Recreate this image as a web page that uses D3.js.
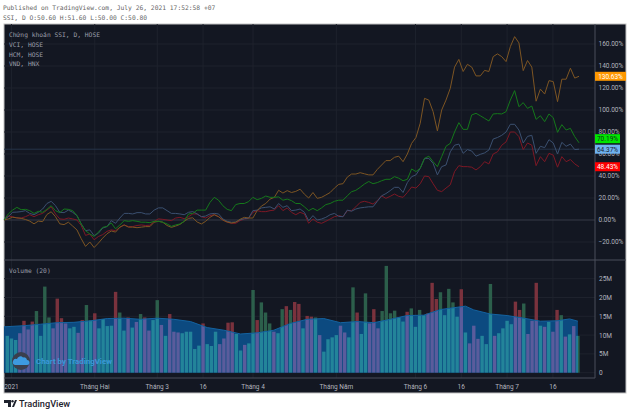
<!DOCTYPE html>
<html>
<head>
<meta charset="utf-8">
<script src="https://cdn.jsdelivr.net/npm/d3@7"></script>
<style>
  html, body { margin: 0; padding: 0; background: #fff; }
  svg { display: block; }
  text { font-family: Roboto, "Noto Sans", sans-serif; }
  .mono { font-family: "DejaVu Sans Mono", "Liberation Mono", monospace; }
</style>
</head>
<body>
<div id="chart"></div>
<script>
// percent change
const ssi = [0,1,2.5,2,1.5,.5,-1,-3.5,-1,-1.5,5,7.5,3,-3.5,-4.2,-2,-5.5,-9,-17,-24,-20,-25,-21,-16.5,-12.5,-10,-11,-6.5,-4.5,-6.5,-6.5,-7,-6.5,-6,-6,-2,-1.2,-2,-5,-6.7,-5.5,-4,-1.2,1.5,2,-1.8,-3.6,-1.2,2.4,4.8,3,0,-1.8,-2.7,-2,.6,2.4,1.8,1.8,8.5,12.7,15,19,20.6,27,24.5,26.7,25,26,28,23.5,20,25,19.7,20.6,22.7,25,29,32.4,33,39,41.8,41.8,43,42,41,41,46,50,54,54,57,58,53,60,69.7,75,88,110.6,109,98.5,81,100,109,119.7,139,146,135,141.5,139,131,131,136,135,148.5,151,148.5,144,157.6,166.7,161,135.8,145,139,108,119,114.5,126.7,125.8,107.6,128,128,138,129,130.63];
const vci = [0,5.5,9,11.5,9.4,9.7,8.5,6,7.9,7,9.7,13,8.5,6.7,10,9.7,8.5,4,-3.6,-9.7,-12.7,-15,-11,-6.7,-5.8,-2.7,-8,-4.5,-.6,-1.2,-.6,-1.2,-2,-2,-2.4,-1.2,-1.2,-2,-3.6,-5.8,-4.5,-3.6,-1.2,5.5,6,9,9,9,16,20.6,18,13,9.7,8.5,14,15,15,16.7,20.6,18.5,19.7,21.8,20.6,20.6,21,18,19,17.6,15,15,12,8.5,10.6,8.5,11,14,15,17,18,18,22,25.7,27,29.7,32.7,35,33,34,35.7,37,37,39.4,38,35.7,37,46.4,44,47,56,58,53,48.5,57.6,67,69.7,80,88.5,82.4,82.4,95.5,97,94.8,92.4,90,96.4,96.7,96.4,98.5,109,117.6,103,106.7,101.5,103.6,91.5,94.8,89.4,96.4,93,79.7,86.7,81.8,83.3,75.8,70.19];
const hcm = [0,3,7,7.2,7.6,8.5,6,4.8,7,10,15,17,13,7,6.7,9,7,4,-3.6,-9.7,-9,-14.2,-12,-7.3,-6,-.6,-3,1.8,6,6,5.5,6.7,6.7,5.5,5.5,9,11,11,8.5,6,6,5.5,4.8,7,7.6,5.5,3,3.6,5.5,6,5.5,1,-1.2,-2,-1.8,0,1.2,1.8,8.5,9,11,11.5,12,10,15,11.5,13,8.5,9,10,7,-.6,4,0,.9,2.4,4.8,6,3.3,3,9,8,10,11,11.5,12,12,17,22,24,26.7,29.7,29.7,25,34,39.4,41,47,56,56,51.5,41,48.5,50,62,68,69,60.6,64,62.7,58,59.7,61,63.6,73.6,75,77,80,87,87,81.8,70,76,77,60.6,67,65.8,73,70,60,70.6,67,69,64,64.37];
const vnd = [0,3.6,3,1.8,1.8,3,4.8,3,4.8,6,9,12,5.5,1,.6,1.8,1,0,-5,-14,-12.7,-18,-15,-13.3,-10.3,-9,-9.7,-6.7,-4.5,-6,-6,-5,-4.5,-5,-4.8,-1.2,1,.6,0,-.6,1.8,2.4,1.2,3,5.5,5.5,3,1.8,4,4.8,3,0,-2,-3,-3,-.6,.9,1.5,7,8.5,7.6,7.6,8.5,9,13,8.5,11,7,4.8,7,5.5,-3,1,-2,-3,-1.2,.9,3,4,3,8.5,8.5,12,16,17,16,14.5,17.6,22,19.7,21.5,23.6,21.5,20.6,25,30,29,33,40,39.4,33,27,25.8,29,32,44,49.4,48.5,48.5,48,45.5,48.5,53,51,60,62,68,71,80,80,75.8,64,70,68,49.4,57.6,53,60.6,59,48,57.6,53,55,51,48.43];

// volume in millions, one per bar, and whether the bar closed up
const volume = [9.8,9.1,8.7,10.5,13.8,11.5,13.6,16.4,9.8,22.9,14.7,11.8,19.7,14.5,13.1,11.8,12.2,10.6,14,18,14,15.8,11.8,14.3,12.4,12.5,21.5,16,11.2,14.7,12,13.5,15.6,14.7,11.2,14,19.3,12.7,9.8,15.6,10.9,10.7,10.5,10.9,10.9,6.3,7.2,13.1,7.6,
  7.1,10.9,7.6,9.1,13.3,13.4,10.3,5.9,7.4,7.8,22,14,18.7,16,13.1,10.9,10.5,16.9,17.7,16.7,18.8,18.3,11.8,15.1,14.9,14.7,10,5.6,8.9,9.4,10,12.5,10.7,9.4,22.7,16,10.3,21.1,13.1,16.9,11.8,16.4,28.4,15.8,16.5,14.7,13.6,16.2,17.1,12.2,
  16.7,15.3,15.8,23.9,19.6,21.4,15.3,22.3,18.7,14.9,22.2,10.7,7.8,12.5,9,9.8,7.6,23.6,9.8,10.5,11.8,13.8,12.9,18.9,16.7,18.4,10.3,13.8,23.9,12.5,12.2,13.5,10.9,16.7,15.3,9.6,10.2,12.4,9.8];
const up = [1,1,1,0,0,0,0,1,1,1,1,0,0,0,0,1,1,0,0,1,1,0,1,1,1,1,0,1,1,0,1,0,1,0,0,1,1,0,1,0,0,0,1,1,1,1,1,0,1,
  1,1,0,0,0,0,1,1,0,1,1,0,1,1,1,0,1,1,0,1,0,0,1,0,0,1,0,1,1,1,1,0,0,1,1,0,1,1,0,0,0,1,1,1,1,1,1,0,1,1,
  1,1,0,0,0,1,1,1,1,1,0,1,0,0,0,1,1,1,0,1,1,1,1,0,0,1,0,0,0,1,0,1,0,0,1,0,1,0,1];

// volume average, read at every few bars
const maBars = [0,4,8,12,16,20,24,28,32,36,40,44,48,52,56,60,64,68,72,76,80,84,88,92,96,100,104,108,110,112,116,120,124,128,132,135,137];
const maVals = [12.2,12.5,12.9,13.3,13.4,13.8,14.4,14.5,14.2,14.5,14.2,13.6,12,11.3,10.3,10.6,11.3,13.1,14.2,14.4,13.3,13.6,13.3,14.2,15.2,15.3,16.8,17.4,17.7,16.7,15.6,15.2,14.5,13.7,13.8,14.3,13.7];

const priceTicks = [160,140,120,100,80,60,40,20,0,-20];
const volTicks = [0,5,10,15,20,25];
const timeBars = [1,21,36,47,59,79,98,109,120,131];
const timeLabels = ["2021","Tháng Hai","Tháng 3","16","Tháng 4","Tháng Năm","Tháng 6","16","Tháng 7","16"];
const legend = ["Chứng khoán SSI, D, HOSE","VCI, HOSE","HCM, HOSE","VND, HNX"];

const width = 630, height = 414;
const svg = d3.select("#chart").append("svg").attr("width", width).attr("height", height);

const panelL = 4, panelR = 626, panelT = 24, panelB = 393, axisX = 595;
const splitY = 260, axisY = 378;

const xLine = d3.scaleLinear().domain([0, ssi.length - 1]).range([4, 579]);
const xBar = d3.scaleLinear().domain([0, volume.length - 1]).range([7.3, 577.9]);
const yPrice = d3.scaleLinear().domain([0, 160]).range([220, 44]);
const yVol = d3.scaleLinear().domain([0, 25]).range([372.7, 278.7]);

const gridColor = "#1e222d";
const textColor = "#b2b5be";

// header
svg.append("text").attr("class", "mono").attr("x", 3).attr("y", 10).attr("font-size", 6.3).attr("fill", "#666")
  .text("Published on TradingView.com, July 26, 2021 17:52:58 +07");
svg.append("text").attr("class", "mono").attr("x", 3).attr("y", 20).attr("font-size", 6.3).attr("fill", "#666")
  .text("SSI, D O:50.60 H:51.60 L:50.00 C:50.80");

svg.append("rect").attr("x", panelL).attr("y", panelT).attr("width", panelR - panelL).attr("height", panelB - panelT)
  .attr("fill", "#131722").attr("stroke", "#c4c4c4").attr("stroke-width", 1);

// grid
svg.selectAll("line.vgrid").data(timeBars).enter().append("line")
  .attr("x1", d => xBar(d)).attr("x2", d => xBar(d)).attr("y1", panelT).attr("y2", axisY)
  .attr("stroke", gridColor);
svg.selectAll("line.hgrid").data(priceTicks).enter().append("line")
  .attr("x1", panelL).attr("x2", axisX).attr("y1", d => yPrice(d)).attr("y2", d => yPrice(d))
  .attr("stroke", d => d == 0 ? "#363a46" : gridColor);
svg.selectAll("line.vgridv").data(volTicks).enter().append("line")
  .attr("x1", panelL).attr("x2", axisX).attr("y1", d => yVol(d)).attr("y2", d => yVol(d))
  .attr("stroke", gridColor);

// last price line
svg.append("line").attr("x1", panelL).attr("x2", axisX)
  .attr("y1", yPrice(hcm[hcm.length - 1])).attr("y2", yPrice(hcm[hcm.length - 1]))
  .attr("stroke", "#263449").attr("stroke-width", 1);

// panel separators and axes
svg.append("line").attr("x1", panelL).attr("x2", panelR).attr("y1", splitY).attr("y2", splitY).attr("stroke", "#4a4e5a");
svg.append("line").attr("x1", panelL).attr("x2", axisX).attr("y1", axisY).attr("y2", axisY).attr("stroke", "#4a4e5a");
svg.append("line").attr("x1", axisX).attr("x2", axisX).attr("y1", panelT).attr("y2", axisY).attr("stroke", "#4a4e5a");

// lines
const line = d3.line().x((d, i) => xLine(i)).y(d => yPrice(d));
const series = [
  { values: vnd, color: "#7d1825", box: "#ff0000", text: "#fff" },
  { values: hcm, color: "#3b5070", box: "#6fb2f0", text: "#17202c" },
  { values: ssi, color: "#7d5522", box: "#ff9800", text: "#fff" },
  { values: vci, color: "#15781b", box: "#00e600", text: "#10331a" }
];
svg.selectAll("path.series").data(series).enter().append("path")
  .attr("fill", "none").attr("stroke", d => d.color).attr("stroke-width", 1)
  .attr("d", d => line(d.values));

// volume bars, moving average area on top, then the bars again inside it
const barW = 3.4;
const barX = i => xBar(i) - barW / 2;
svg.selectAll("rect.vol").data(volume).enter().append("rect")
  .attr("x", (d, i) => barX(i)).attr("y", d => yVol(d))
  .attr("width", barW).attr("height", d => yVol(0) - yVol(d))
  .attr("fill", (d, i) => up[i] ? "#2c5f4b" : "#7a323d");

const ma = d3.area().x(d => xBar(d[0])).y0(yVol(0)).y1(d => yVol(d[1]));
const maLine = d3.line().x(d => xBar(d[0])).y(d => yVol(d[1]));
const maData = maBars.map((b, i) => [b, maVals[i]]);
maData[0] = [-0.8, maVals[0]];

svg.append("clipPath").attr("id", "maClip").append("path").attr("d", ma(maData));
svg.append("path").attr("d", ma(maData)).attr("fill", "#0c4a80");
svg.append("g").attr("clip-path", "url(#maClip)")
  .selectAll("rect").data(volume).enter().append("rect")
  .attr("x", (d, i) => barX(i)).attr("y", d => yVol(d))
  .attr("width", barW).attr("height", d => yVol(0) - yVol(d))
  .attr("fill", (d, i) => up[i] ? "#23849a" : "#5a5c9c");
svg.append("path").attr("d", maLine(maData)).attr("fill", "none").attr("stroke", "#14629f").attr("stroke-width", 1);

// legend
svg.selectAll("text.legend").data(legend).enter().append("text")
  .attr("class", "mono").attr("x", 9).attr("y", (d, i) => 37.3 + i * 9.7)
  .attr("font-size", 6.3).attr("fill", "#9a9ea9").text(d => d);
svg.append("text").attr("class", "mono").attr("x", 9).attr("y", 273)
  .attr("font-size", 6.3).attr("fill", "#9a9ea9").text("Volume (20)");

// watermark
svg.append("circle").attr("cx", 21).attr("cy", 361).attr("r", 9).attr("fill", "#3a3f4d");
svg.append("path").attr("d", "M15 365 h12 a2.5 2.5 0 0 0 0 -5 a3 3 0 0 0 -4 -2.5 a3.5 3.5 0 0 0 -6 1.5 a3 3 0 0 0 -2 6 z").attr("fill", "#3d9ae0");
svg.append("text").attr("x", 36).attr("y", 364).attr("font-size", 7.9).attr("font-weight", 700)
  .attr("fill", "#3a98d8").text("Chart by TradingView");

// price axis labels
svg.selectAll("text.pt").data(priceTicks).enter().append("text")
  .attr("x", 598.5).attr("y", d => yPrice(d) + 2.4).attr("font-size", 6.5).attr("fill", textColor)
  .text(d => d3.format(".2f")(d) + "%");
svg.selectAll("text.vt").data(volTicks).enter().append("text")
  .attr("x", 599).attr("y", d => yVol(d) + 2.4).attr("font-size", 6.5).attr("fill", textColor)
  .text(d => d == 0 ? "0" : d + "M");

// last value boxes, pushed up so they do not cover each other
const boxH = 9, boxGap = 1.5;
const boxes = series.map(s => ({ s: s, v: s.values[s.values.length - 1] }))
  .sort((a, b) => a.v - b.v);
let prevY = Infinity;
boxes.forEach(b => {
  const y = Math.min(yPrice(b.v), prevY - boxH - boxGap);
  prevY = y;
  const w = b.s.values === ssi ? 31 : 25;
  svg.append("rect").attr("x", axisX).attr("y", y - boxH / 2).attr("width", w).attr("height", boxH).attr("fill", b.s.box);
  svg.append("text").attr("x", axisX + w / 2).attr("y", y + 2.4).attr("text-anchor", "middle")
    .attr("font-size", 6.5).attr("fill", b.s.text).text(d3.format(".2f")(b.v) + "%");
});

// time axis
svg.selectAll("text.time").data(timeLabels).enter().append("text")
  .attr("x", (d, i) => xBar(timeBars[i])).attr("y", 389).attr("text-anchor", "middle")
  .attr("font-size", 6.5).attr("fill", textColor).text(d => d);

// logo
svg.append("path").attr("d", "M4 400 h7 v7 h-3 v-4 h-4 z M15 400 h2 l-3 7 h-2 z").attr("fill", "#1e222d");
svg.append("circle").attr("cx", 12.5).attr("cy", 401.3).attr("r", 1.2).attr("fill", "#1e222d");
svg.append("text").attr("x", 19).attr("y", 406.8).attr("font-size", 9.2).attr("font-weight", 500)
  .attr("fill", "#1e222d").text("TradingView");
</script>
</body>
</html>
